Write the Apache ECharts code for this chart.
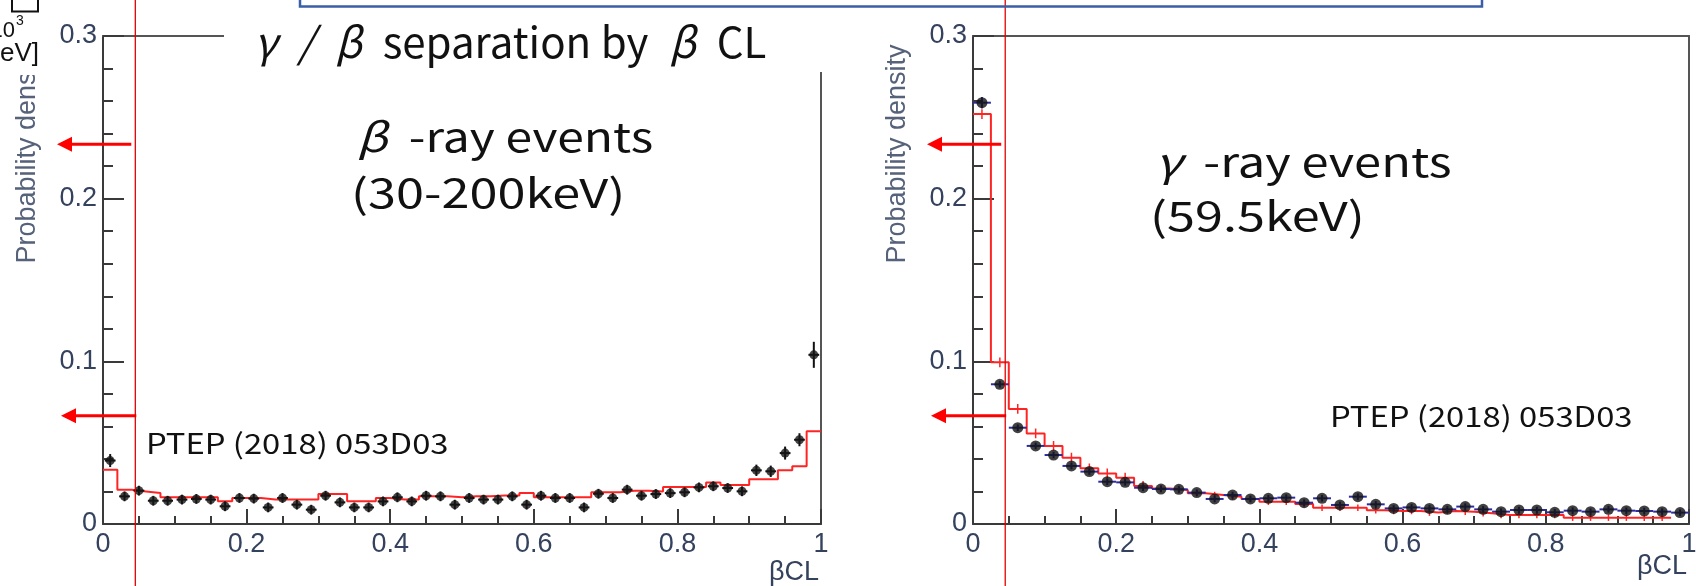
<!DOCTYPE html>
<html>
<head>
<meta charset="utf-8">
<script src="https://cdn.jsdelivr.net/npm/echarts@6/dist/echarts.min.js"></script>
<style>
  html, body { margin: 0; padding: 0; background: #fff; }
  #chart { width: 1696px; height: 586px; }
</style>
</head>
<body>
<div id="chart"></div>
<script>
// βCL histograms, beta-ray (30-200 keV) and gamma-ray (59.5 keV) samples
const BETA_BIN = 0.02;   // 50 bins
const GAMMA_BIN = 0.025; // 40 bins

// beta sample: data points and model (red step)
const betaData = [
  0.039, 0.017, 0.0205, 0.0143, 0.0143, 0.015, 0.0154, 0.015, 0.0109, 0.016,
  0.0156, 0.0102, 0.016, 0.0119, 0.0088, 0.0174, 0.0133, 0.0102, 0.0102, 0.0139,
  0.0164, 0.0139, 0.0174, 0.017, 0.0119, 0.016, 0.015, 0.015, 0.017, 0.0119,
  0.0174, 0.016, 0.016, 0.0102, 0.0186, 0.016, 0.0211, 0.0174, 0.0184, 0.019,
  0.0195, 0.0225, 0.0232, 0.0221, 0.0201, 0.033, 0.0324, 0.0436, 0.0518, 0.104
];
const betaErr = [
  0.004, 0.003, 0.003, 0.003, 0.003, 0.003, 0.003, 0.003, 0.003, 0.003,
  0.003, 0.003, 0.003, 0.003, 0.003, 0.003, 0.003, 0.003, 0.003, 0.003,
  0.003, 0.003, 0.003, 0.003, 0.003, 0.003, 0.003, 0.003, 0.003, 0.003,
  0.003, 0.003, 0.003, 0.003, 0.003, 0.003, 0.003, 0.003, 0.003, 0.003,
  0.003, 0.003, 0.003, 0.003, 0.003, 0.0035, 0.0035, 0.004, 0.004, 0.008
];
const betaModel = [
  0.0334, 0.021, 0.020, 0.019, 0.0165, 0.0165, 0.0165, 0.0165, 0.014, 0.016,
  0.016, 0.015, 0.015, 0.015, 0.015, 0.0184, 0.0184, 0.014, 0.014, 0.016,
  0.015, 0.015, 0.017, 0.017, 0.0164, 0.017, 0.017, 0.0175, 0.0175, 0.019,
  0.0165, 0.0165, 0.0165, 0.0165, 0.0195, 0.0195, 0.0205, 0.0205, 0.020, 0.0228,
  0.0228, 0.0228, 0.0255, 0.024, 0.024, 0.0275, 0.0275, 0.033, 0.0355, 0.057
];

// gamma sample: data points and model (red step, last bin empty)
const gammaData = [
  0.259, 0.0859, 0.0592, 0.048, 0.0424, 0.0357, 0.0322, 0.026, 0.0256, 0.0223,
  0.0215, 0.0213, 0.0193, 0.0154, 0.0178, 0.0154, 0.0158, 0.0162, 0.0131, 0.0158,
  0.0117, 0.0168, 0.0121, 0.0096, 0.0102, 0.0096, 0.009, 0.0107, 0.009, 0.0076,
  0.0086, 0.0086, 0.0072, 0.0082, 0.0076, 0.009, 0.0082, 0.008, 0.0076, 0.007
];
const gammaErr = [
  0.0035, 0.002, 0.002, 0.002, 0.002, 0.002, 0.002, 0.002, 0.002, 0.002,
  0.002, 0.002, 0.002, 0.002, 0.002, 0.002, 0.002, 0.002, 0.002, 0.002,
  0.002, 0.002, 0.002, 0.002, 0.002, 0.002, 0.002, 0.002, 0.002, 0.002,
  0.002, 0.002, 0.002, 0.002, 0.002, 0.002, 0.002, 0.002, 0.002, 0.002
];
const gammaModel = [
  0.252, 0.0994, 0.0707, 0.0557, 0.048, 0.0408, 0.0342, 0.0311, 0.0285, 0.0234,
  0.0219, 0.0209, 0.0189, 0.0178, 0.0168, 0.0154, 0.0137, 0.0137, 0.0123, 0.010,
  0.010, 0.010, 0.0085, 0.008, 0.008, 0.007, 0.008, 0.0076, 0.0066, 0.0055,
  0.0055, 0.0055, 0.0055, 0.0039, 0.0039, 0.0039, 0.0039, 0.0039, 0.0039, null
];
const gammaModelErr = [
  0.003, 0.003, 0.003, 0.003, 0.003, 0.003, 0.003, 0.003, 0.003, 0.003,
  0.002, 0.002, 0.002, 0.002, 0.002, 0.002, 0.002, 0.002, 0.002, 0.002,
  0.002, 0.002, 0.002, 0.002, 0.002, 0.002, 0.002, 0.002, 0.002, 0.002,
  0.002, 0.002, 0.002, 0.002, 0.002, 0.002, 0.002, 0.002, 0.002, 0
];

const CUT = 0.045;                  // red vertical cut line
const ARROW_LEVELS = [0.2335, 0.0665];

const AXIS_COLOR = '#3a3a3a';
const LABEL_COLOR = '#34425e';
const RED = '#ff2424';
const TEXT_FONT = '"Noto Sans CJK JP", "Noto Sans", sans-serif';

const centers = (n, w) => Array.from({ length: n }, (_, i) => (i + 0.5) * w);

// step histogram points: horizontal first, then vertical at next edge
function stepPoints(vals, w) {
  const pts = [];
  let last = null;
  vals.forEach((v, i) => {
    if (v == null) return;
    pts.push([i * w, v]);
    last = [(i + 1) * w, v];
  });
  if (last) pts.push(last);
  return pts;
}

function errorBars(color, width) {
  return function (params, api) {
    const x = api.value(0), y = api.value(1);
    const ex = api.value(2), ey = api.value(3);
    const kids = [];
    const st = { stroke: color, lineWidth: width };
    if (ex > 0) {
      const a = api.coord([x - ex, y]), b = api.coord([x + ex, y]);
      kids.push({ type: 'line', shape: { x1: a[0], y1: a[1], x2: b[0], y2: b[1] }, style: st });
    }
    if (ey > 0) {
      const a = api.coord([x, y - ey]), b = api.coord([x, y + ey]);
      kids.push({ type: 'line', shape: { x1: a[0], y1: a[1], x2: b[0], y2: b[1] }, style: st });
    }
    return { type: 'group', children: kids };
  };
}

function mainX(gi) {
  return {
    gridIndex: gi, type: 'value', min: 0, max: 1, interval: 0.2,
    axisLine: { show: true, onZero: false, lineStyle: { color: AXIS_COLOR, width: 2 } },
    axisTick: { show: true, inside: true, length: 15, lineStyle: { color: AXIS_COLOR, width: 2 } },
    minorTick: { show: true, splitNumber: 4, length: 8, lineStyle: { color: AXIS_COLOR, width: 2 } },
    axisLabel: { color: LABEL_COLOR, fontSize: 27, fontFamily: 'Liberation Sans', margin: 7 },
    splitLine: { show: false }, minorSplitLine: { show: false }
  };
}
function mainY(gi) {
  return {
    gridIndex: gi, type: 'value', min: 0, max: 0.3, interval: 0.1,
    axisLine: { show: true, onZero: false, lineStyle: { color: AXIS_COLOR, width: 2 } },
    axisTick: { show: true, inside: true, length: 21, lineStyle: { color: AXIS_COLOR, width: 2 } },
    minorTick: { show: true, splitNumber: 5, length: 10, lineStyle: { color: AXIS_COLOR, width: 2 } },
    axisLabel: { color: LABEL_COLOR, fontSize: 27, fontFamily: 'Liberation Sans', margin: 6 },
    splitLine: { show: false }, minorSplitLine: { show: false }
  };
}
function frameAxis(gi, isX) {
  return {
    gridIndex: gi, type: 'value', min: 0, max: isX ? 1 : 0.3,
    position: isX ? 'top' : 'right',
    axisLine: { show: true, onZero: false, lineStyle: { color: '#555', width: 2 } },
    axisTick: { show: false }, axisLabel: { show: false }, splitLine: { show: false }
  };
}

const betaX = centers(betaData.length, BETA_BIN);
const gammaX = centers(gammaData.length, GAMMA_BIN);

const chart = echarts.init(document.getElementById('chart'));
chart.setOption({
  animation: false,
  backgroundColor: '#fff',
  grid: [
    { left: 103, top: 36, width: 718, height: 488, outerBoundsMode: 'none' },
    { left: 973, top: 36, width: 716, height: 488, outerBoundsMode: 'none' }
  ],
  xAxis: [mainX(0), frameAxis(0, true), mainX(1), frameAxis(1, true)],
  yAxis: [mainY(0), frameAxis(0, false), mainY(1), frameAxis(1, false)],
  series: [
    {
      type: 'line', xAxisIndex: 0, yAxisIndex: 0, step: 'end', showSymbol: false,
      data: stepPoints(betaModel, BETA_BIN),
      lineStyle: { color: RED, width: 2 }, z: 2, silent: true
    },
    {
      type: 'custom', xAxisIndex: 0, yAxisIndex: 0, renderItem: errorBars('#111', 2),
      data: betaX.map((x, i) => [x, betaData[i], 0.0075, betaErr[i]]), z: 3, silent: true
    },
    {
      type: 'scatter', xAxisIndex: 0, yAxisIndex: 0, symbol: 'circle', symbolSize: 9,
      data: betaX.map((x, i) => [x, betaData[i]]),
      itemStyle: { color: '#151515' }, z: 4, silent: true
    },
    {
      type: 'line', xAxisIndex: 2, yAxisIndex: 2, step: 'end', showSymbol: false,
      data: stepPoints(gammaModel, GAMMA_BIN),
      lineStyle: { color: RED, width: 2 }, z: 2, silent: true
    },
    {
      type: 'custom', xAxisIndex: 2, yAxisIndex: 2, renderItem: errorBars(RED, 1.5),
      data: gammaX.map((x, i) => [x, gammaModel[i], 0, gammaModelErr[i]]).filter(d => d[1] != null),
      z: 2, silent: true
    },
    {
      type: 'custom', xAxisIndex: 2, yAxisIndex: 2, renderItem: errorBars('#2c2c9c', 2),
      data: gammaX.map((x, i) => [x, gammaData[i], GAMMA_BIN / 2, gammaErr[i]]), z: 3, silent: true
    },
    {
      type: 'scatter', xAxisIndex: 2, yAxisIndex: 2, symbol: 'circle', symbolSize: 11,
      data: gammaX.map((x, i) => [x, gammaData[i]]),
      itemStyle: { color: '#111111' }, z: 4, silent: true
    }
  ]
});

// annotations placed from the axes' own scales
const toPx = (si, x, y) => chart.convertToPixel({ seriesIndex: si }, [x, y]);
const H = 586;

function arrow(tipX, tailX, y) {
  return [
    { type: 'line', z: 110, shape: { x1: tipX + 12, y1: y, x2: tailX, y2: y }, style: { stroke: '#ff0000', lineWidth: 3 } },
    { type: 'polygon', z: 110, shape: { points: [[tipX, y], [tipX + 15, y - 7.5], [tipX + 15, y + 7.5]] }, style: { fill: '#ff0000' } }
  ];
}
function label(x, y, text, size, sx) {
  return {
    type: 'text', x: x, y: y, z: 120, scaleX: sx,
    style: {
      text: text, fontSize: size, fontFamily: TEXT_FONT, fill: '#111',
      align: 'left', verticalAlign: 'middle',
      rich: { i: { fontStyle: 'italic', fontSize: size, fontFamily: TEXT_FONT, fill: '#111' } }
    }
  };
}

const graphics = [];
[2, 6].forEach((si) => {
  const cx = toPx(si, CUT, 0)[0];
  graphics.push({ type: 'line', z: 112, shape: { x1: cx, y1: 0, x2: cx, y2: H }, style: { stroke: '#e00000', lineWidth: 1.3 } });
  const origin = toPx(si, 0, 0);
  const y1 = toPx(si, 0, ARROW_LEVELS[0])[1];
  const y2 = toPx(si, 0, ARROW_LEVELS[1])[1];
  graphics.push(...arrow(origin[0] - 46, cx - 4, y1));
  graphics.push(...arrow(origin[0] - 42, cx + 1, y2));
  // y axis title
  graphics.push({
    type: 'text', x: origin[0] - 75, y: 154, rotation: Math.PI / 2, z: 101,
    style: { text: 'Probability density', fontSize: 27, fontFamily: 'Liberation Sans', fill: '#56627a', align: 'center', verticalAlign: 'middle' }
  });
  // x axis title
  const end = toPx(si, 1, 0);
  graphics.push({
    type: 'text', x: end[0] - 2, y: si === 2 ? 573 : 567, z: 101,
    style: { text: 'βCL', fontSize: 27, fontFamily: 'Liberation Sans', fill: LABEL_COLOR, align: 'right', verticalAlign: 'middle' }
  });
});

// cover the top of the left frame where the title sits, and the cropped corner
graphics.push({ type: 'rect', z: 105, shape: { x: 224, y: 14, width: 606, height: 58 }, style: { fill: '#fff' } });
graphics.push({ type: 'rect', z: 105, shape: { x: 0, y: 0, width: 48, height: 75 }, style: { fill: '#fff' } });
graphics.push({ type: 'rect', z: 106, shape: { x: 12, y: -6, width: 26, height: 17.5 }, style: { fill: 'none', stroke: '#111', lineWidth: 2 } });
graphics.push({ type: 'text', z: 106, x: 15, y: 31, style: { text: '10', fontSize: 22, fontFamily: 'Liberation Sans', fill: '#111', align: 'right', verticalAlign: 'middle' } });
graphics.push({ type: 'text', z: 106, x: 16, y: 21, style: { text: '3', fontSize: 14, fontFamily: 'Liberation Sans', fill: '#111', align: 'left', verticalAlign: 'middle' } });
graphics.push({ type: 'text', z: 106, x: 39, y: 54, style: { text: 'eV]', fontSize: 26, fontFamily: 'Liberation Sans', fill: '#111', align: 'right', verticalAlign: 'middle' } });

// blue text box edge at the top
graphics.push({ type: 'rect', z: 130, shape: { x: 300, y: -10, width: 1182, height: 16.5 }, style: { fill: 'none', stroke: '#3b5ea8', lineWidth: 2.5 } });

// texts
graphics.push(label(254, 42, '{i|γ\u2002/\u2002β\u2002}separation by\u2002{i|β\u2002}CL', 42, 1.0));
graphics.push(label(357, 137, '{i|β}  -ray events', 40, 1.2));
graphics.push(label(351, 193, '(30-200keV)', 40, 1.26));
graphics.push(label(1155, 162, '{i|γ}  -ray events', 40, 1.22));
graphics.push(label(1150, 216, '(59.5keV)', 40, 1.26));
graphics.push(label(146, 443, 'PTEP (2018) 053D03', 28, 1.17));
graphics.push(label(1330, 416, 'PTEP (2018) 053D03', 28, 1.17));

chart.setOption({ graphic: { elements: graphics } });
</script>
</body>
</html>
